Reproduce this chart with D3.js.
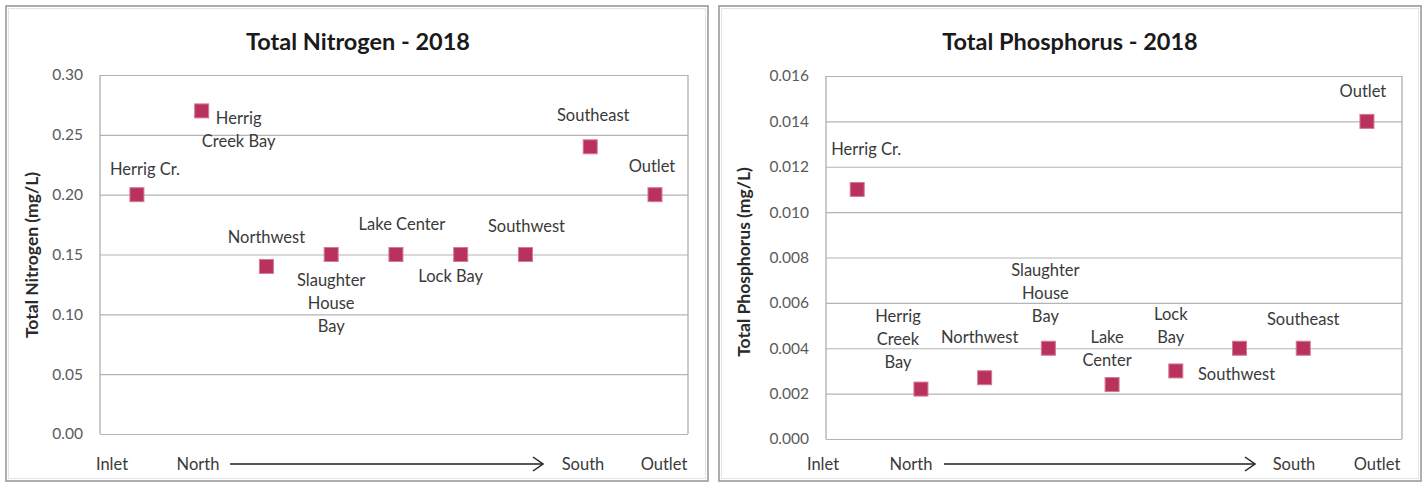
<!DOCTYPE html>
<html>
<head>
<meta charset="utf-8">
<script src="https://cdn.jsdelivr.net/npm/d3@7"></script>
<style>
  html, body { margin: 0; padding: 0; background: #fff; }
  svg { display: block; }
  text { font-family: Lato, "Open Sans", sans-serif; }
</style>
</head>
<body>
<svg id="chart" width="1426" height="483"></svg>
<script>
// Sampling sites, ordered from inlet through the lake (north to south) to the outlet
const sites = ["Herrig Cr.", "Herrig Creek Bay", "Northwest", "Slaughter House Bay",
               "Lake Center", "Lock Bay", "Southwest", "Southeast", "Outlet"];

// 2018 concentrations (mg/L)
const nitrogen   = [0.20, 0.27, 0.14, 0.15, 0.15, 0.15, 0.15, 0.24, 0.20];
const phosphorus = [0.011, 0.0022, 0.0027, 0.004, 0.0024, 0.003, 0.004, 0.004, 0.014];

// Axis ticks
const nitrogenTicks   = [0, 0.05, 0.10, 0.15, 0.20, 0.25, 0.30];
const phosphorusTicks = [0, 0.002, 0.004, 0.006, 0.008, 0.010, 0.012, 0.014, 0.016];

// Data label text, split into lines
const nitrogenLabels = [["Herrig Cr."], ["Herrig", "Creek Bay"], ["Northwest"],
  ["Slaughter", "House", "Bay"], ["Lake Center"], ["Lock Bay"], ["Southwest"],
  ["Southeast"], ["Outlet"]];
const phosphorusLabels = [["Herrig Cr."], ["Herrig", "Creek", "Bay"], ["Northwest"],
  ["Slaughter", "House", "Bay"], ["Lake", "Center"], ["Lock", "Bay"], ["Southwest"],
  ["Southeast"], ["Outlet"]];

// Direction captions below the plot
const directionLabels = ["Inlet", "North", "South", "Outlet"];

const svg = d3.select("#chart");
const MARK = "#b8325c";

function drawPanel(cfg) {
  const g = svg.append("g");

  // outer chart frame
  g.append("rect")
    .attr("x", cfg.frame[0]).attr("y", cfg.frame[1])
    .attr("width", cfg.frame[2]).attr("height", cfg.frame[3])
    .attr("fill", "#fff").attr("stroke", "#9a9a9a").attr("stroke-width", 1.6);
  g.append("rect")
    .attr("x", cfg.frame[0] + 2.5).attr("y", cfg.frame[1] + 2.5)
    .attr("width", cfg.frame[2] - 5).attr("height", cfg.frame[3] - 5)
    .attr("fill", "none").attr("stroke", "#e4e4e4").attr("stroke-width", 1);

  const x = d3.scaleLinear().domain(cfg.xDomain).range([cfg.plot.left, cfg.plot.right]);
  const y = d3.scaleLinear().domain(cfg.yDomain).range([cfg.plot.bottom, cfg.plot.top]);

  // gridlines via the axis generator
  const grid = g.append("g")
    .attr("transform", `translate(${cfg.plot.left},0)`)
    .call(d3.axisLeft(y).tickValues(cfg.ticks)
      .tickSize(-(cfg.plot.right - cfg.plot.left)).tickFormat(""));
  grid.select(".domain").remove();
  grid.selectAll(".tick line").attr("stroke", "#b4b4b4").attr("stroke-width", 1.2);

  // plot area side edges
  g.append("line")
    .attr("x1", cfg.plot.left).attr("x2", cfg.plot.left)
    .attr("y1", cfg.plot.top).attr("y2", cfg.plot.bottom)
    .attr("stroke", "#a8a8a8").attr("stroke-width", 1.2);
  g.append("line")
    .attr("x1", cfg.plot.right).attr("x2", cfg.plot.right)
    .attr("y1", cfg.plot.top).attr("y2", cfg.plot.bottom)
    .attr("stroke", "#a8a8a8").attr("stroke-width", 1.2);

  // tick labels
  const yAxis = g.append("g")
    .attr("transform", `translate(${cfg.plot.left - 14},0)`)
    .call(d3.axisLeft(y).tickValues(cfg.ticks).tickSize(0).tickFormat(d3.format(cfg.fmt)));
  yAxis.select(".domain").remove();
  yAxis.selectAll("text")
    .attr("font-family", "Lato, sans-serif")
    .attr("font-size", 15.5).attr("fill", "#5a5a5a");

  // titles
  g.append("text")
    .attr("x", cfg.titleX).attr("y", 50)
    .attr("text-anchor", "middle")
    .attr("font-size", 23.5).attr("font-weight", 700).attr("fill", "#1a1a1a")
    .text(cfg.title);
  g.append("text")
    .attr("transform", `translate(${cfg.yTitleX},${cfg.yTitleY}) rotate(-90)`)
    .attr("text-anchor", "middle")
    .attr("font-size", 17.5).attr("font-weight", 700).attr("fill", "#2a2a2a")
    .text(cfg.yTitle);

  // markers
  const pts = cfg.values.map((v, i) => ({ i: i + 1, v, lines: cfg.labels[i], off: cfg.offsets[i] }));
  const s = 14;
  g.selectAll("rect.mark").data(pts).join("rect")
    .attr("class", "mark")
    .attr("x", d => x(d.i) - s / 2).attr("y", d => y(d.v) - s / 2)
    .attr("width", s).attr("height", s)
    .attr("fill", MARK).attr("stroke", "#d47a96").attr("stroke-width", 1);

  // data labels
  const lh = 23;
  const lab = g.selectAll("text.lab").data(pts).join("text")
    .attr("class", "lab")
    .attr("text-anchor", "middle")
    .attr("font-size", 16.5).attr("fill", "#3a3a3a");
  lab.each(function (d) {
    const t = d3.select(this);
    const cx = x(d.i) + d.off[0];
    const cy = y(d.v) + d.off[1];
    const n = d.lines.length;
    d.lines.forEach((ln, k) => {
      t.append("tspan")
        .attr("x", cx)
        .attr("y", cy + (k - (n - 1) / 2) * lh)
        .attr("dy", "0.35em")
        .text(ln);
    });
  });

  // direction captions and arrow
  const by = 464;
  directionLabels.forEach((txt, k) => {
    g.append("text")
      .attr("x", cfg.dirX[k]).attr("y", by).attr("dy", "0.35em")
      .attr("text-anchor", "middle")
      .attr("font-size", 16.5).attr("fill", "#3a3a3a")
      .text(txt);
  });
  g.append("line")
    .attr("x1", cfg.arrow[0]).attr("x2", cfg.arrow[1])
    .attr("y1", by).attr("y2", by)
    .attr("stroke", "#222").attr("stroke-width", 1.5);
  g.append("path")
    .attr("d", `M${cfg.arrow[1] - 10},${by - 7} L${cfg.arrow[1]},${by} L${cfg.arrow[1] - 10},${by + 7}`)
    .attr("fill", "none").attr("stroke", "#222").attr("stroke-width", 1.5);
}

drawPanel({
  frame: [6, 6, 702, 475],
  plot: { left: 100, right: 688, top: 75, bottom: 434 },
  xDomain: [0.43, 9.51],
  yDomain: [0, 0.30],
  ticks: nitrogenTicks,
  fmt: ".2f",
  values: nitrogen,
  labels: nitrogenLabels,
  offsets: [[8, -25], [37, 19], [0, -29], [0, 49], [6, -30], [-10, 22], [1, -28], [3, -32], [-3, -28]],
  title: "Total Nitrogen - 2018",
  titleX: 358,
  yTitle: "Total Nitrogen (mg/L)",
  yTitleX: 38, yTitleY: 255,
  dirX: [112, 198, 583, 664],
  arrow: [230, 543]
});

drawPanel({
  frame: [719, 6, 702, 475],
  plot: { left: 826, right: 1402, top: 76, bottom: 439 },
  xDomain: [0.51, 9.55],
  yDomain: [0, 0.016],
  ticks: phosphorusTicks,
  fmt: ".3f",
  values: phosphorus,
  labels: phosphorusLabels,
  offsets: [[9, -40], [-23, -50], [-5, -41], [-3, -55], [-5, -36], [-5, -45], [-3, 26], [0, -29], [-4, -30]],
  title: "Total Phosphorus - 2018",
  titleX: 1070,
  yTitle: "Total Phosphorus (mg/L)",
  yTitleX: 750, yTitleY: 262,
  dirX: [823, 911, 1294, 1377],
  arrow: [944, 1255]
});
</script>
</body>
</html>
